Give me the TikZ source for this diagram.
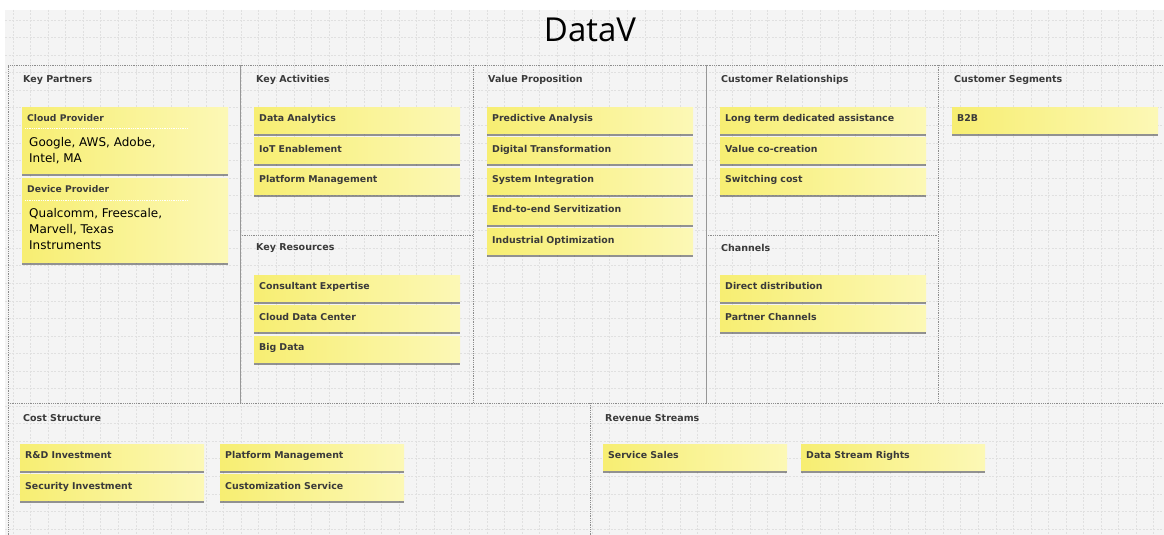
\documentclass[tikz,border=0pt]{standalone}
\usepackage{fontspec}
\setmainfont{DejaVu Sans}
\newfontfamily\titlefont{Open Sans}
\usepackage{tikz}
\usetikzlibrary{shadows, positioning}

\definecolor{paper}{HTML}{F4F4F4}
\definecolor{gridline}{HTML}{E0E0E0}
\definecolor{stickyA}{HTML}{F7EE72}
\definecolor{stickyB}{HTML}{FCF8B6}
\definecolor{labelgray}{HTML}{3A3A3A}
\definecolor{border}{HTML}{8C8C8C}

\tikzset{
  gridln/.style={gridline, line width=0.6pt, dash pattern=on 2pt off 1.5pt},
  block/.style={border, line width=0.8pt, densely dotted},
  blockedge/.style={border!90, line width=1pt},
  blocktitle/.style={anchor=west, inner sep=0pt, text=labelgray,
    font=\fontsize{9.5}{11}\selectfont\bfseries},
  sticky/.style={anchor=north west, minimum width=206pt, minimum height=26pt,
    inner xsep=5pt, inner ysep=0pt, text width=196pt, align=left,
    text height=7pt, text depth=4pt,
    left color=stickyA, right color=stickyB, text=labelgray,
    font=\fontsize{9.4}{11}\selectfont\bfseries,
    drop shadow={shadow xshift=0pt, shadow yshift=-2.5pt, opacity=0.55, fill=black!75}},
  shortsticky/.style={sticky, minimum width=184pt, text width=174pt},
  notehead/.style={anchor=west, inner sep=0pt, text=labelgray,
    font=\fontsize{9.2}{11}\selectfont\bfseries},
  notebody/.style={anchor=north west, inner sep=0pt, align=left, text=black,
    font=\fontsize{12}{16}\selectfont},
  sepline/.style={white, line width=0.8pt, densely dotted},
}

\begin{document}
\begin{tikzpicture}[x=1pt, y=-1pt]
  \useasboundingbox (0,0) rectangle (1164,535);

  % paper and grid
  \fill[white] (0,0) rectangle (1164,535);
  \fill[paper] (5,10) rectangle (1164,535);
  \foreach \i in {0,...,65}
    \draw[gridln] ({13+17.55*\i},10) -- ++(0,525);
  \foreach \j in {0,...,29}
    \draw[gridln] (5,{20+17.55*\j}) -- (1164,{20+17.55*\j});

  \node[font=\titlefont\fontsize{33}{33}\selectfont] (title) at (590,30) {DataV};

  % canvas blocks
  \draw[block] (8,403) -- (8,65) -- (1164,65);
  \draw[block] (8,403) -- (1164,403);
  \draw[block] (473,65) -- (473,403);
  \draw[block] (938,65) -- (938,403);
  \draw[block] (590,403) -- (590,535);
  \draw[block] (8,403) -- (8,535);
  \draw[block] (240,235) -- (473,235);
  \draw[block] (706,235) -- (938,235);
  \draw[blockedge] (240,65) -- (240,403);
  \draw[blockedge] (706,65) -- (706,403);

  \node[blocktitle] (kp) at (23,80) {Key Partners};
  \node[blocktitle] (ka) at (256,80) {Key Activities};
  \node[blocktitle] (vp) at (488,80) {Value Proposition};
  \node[blocktitle] (cr) at (721,80) {Customer Relationships};
  \node[blocktitle] (cs) at (954,80) {Customer Segments};
  \node[blocktitle] (kr) at (256,248) {Key Resources};
  \node[blocktitle] (ch) at (721,248) {Channels};
  \node[blocktitle] (cost) at (23,418) {Cost Structure};
  \node[blocktitle] (rev) at (605,418) {Revenue Streams};

  % key partners
  \node[sticky, minimum height=66pt] (cloud) at (22,107) {};
  \node[notehead] (cloudhd) at ([xshift=5pt, yshift=-11pt]cloud.north west) {Cloud Provider};
  \draw[sepline] ([xshift=3pt, yshift=-21pt]cloud.north west) -- ++(163,0);
  \node[notebody] (cloudbd) at ([xshift=7pt, yshift=-30pt]cloud.north west)
    {Google, AWS, Adobe,\\Intel, MA};

  \node[sticky, minimum height=84pt] (device) at (22,178) {};
  \node[notehead] (devicehd) at ([xshift=5pt, yshift=-11pt]device.north west) {Device Provider};
  \draw[sepline] ([xshift=3pt, yshift=-22pt]device.north west) -- ++(163,0);
  \node[notebody] (devicebd) at ([xshift=7pt, yshift=-30pt]device.north west)
    {Qualcomm, Freescale,\\Marvell, Texas\\Instruments};

  % key activities
  \node[sticky] (da) at (254,107) {Data Analytics};
  \node[sticky, below=4pt of da] (iot) {IoT Enablement};
  \node[sticky, below=4pt of iot] (pm) {Platform Management};

  % key resources
  \node[sticky] (ce) at (254,275) {Consultant Expertise};
  \node[sticky, below=4pt of ce] (cdc) {Cloud Data Center};
  \node[sticky, below=4pt of cdc] (bd) {Big Data};

  % value proposition
  \node[sticky] (pa) at (487,107) {Predictive Analysis};
  \node[sticky, below=4pt of pa] (dt) {Digital Transformation};
  \node[sticky, below=4pt of dt] (si) {System Integration};
  \node[sticky, below=4pt of si] (es) {End-to-end Servitization};
  \node[sticky, below=4pt of es] (io) {Industrial Optimization};

  % customer relationships
  \node[sticky] (ltda) at (720,107) {Long term dedicated assistance};
  \node[sticky, below=4pt of ltda] (vcc) {Value co-creation};
  \node[sticky, below=4pt of vcc] (sc) {Switching cost};

  % channels
  \node[sticky] (dd) at (720,275) {Direct distribution};
  \node[sticky, below=4pt of dd] (pc) {Partner Channels};

  % customer segments
  \node[sticky] (b2b) at (952,107) {B2B};

  % cost structure
  \node[shortsticky] (rd) at (20,444) {R\&D Investment};
  \node[shortsticky, below=4pt of rd] (secinv) {Security Investment};
  \node[shortsticky] (pm2) at (220,444) {Platform Management};
  \node[shortsticky, below=4pt of pm2] (cust) {Customization Service};

  % revenue streams
  \node[shortsticky] (ss) at (603,444) {Service Sales};
  \node[shortsticky] (dsr) at (801,444) {Data Stream Rights};

\end{tikzpicture}
\end{document}
